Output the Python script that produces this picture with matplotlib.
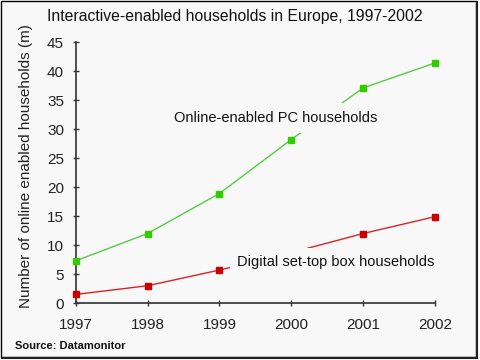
import matplotlib.pyplot as plt
from matplotlib.patches import Rectangle
from matplotlib.lines import Line2D

plt.rcParams['font.family'] = ['Liberation Sans', 'DejaVu Sans']

years = [1997, 1998, 1999, 2000, 2001, 2002]
pc_households = [7.3, 12.0, 18.9, 28.2, 37.1, 41.4]
stb_households = [1.5, 3.0, 5.7, 8.7, 12.0, 14.9]
y_ticks = [0, 5, 10, 15, 20, 25, 30, 35, 40, 45]

bg = '#f8f8f8'
fig = plt.figure(figsize=(4.8, 3.6), dpi=100, facecolor='white')

# panel background with a black frame and a dark shadow right/bottom
fig.patches.append(Rectangle((0.002, 0.008), 0.990, 0.989, transform=fig.transFigure,
                             facecolor=bg, edgecolor='black', linewidth=1.0, zorder=-5))
fig.lines.append(Line2D([0.994, 0.994], [0.006, 0.995], transform=fig.transFigure,
                        color='#222222', linewidth=1.5, zorder=-4))
fig.lines.append(Line2D([0.004, 0.994], [0.006, 0.006], transform=fig.transFigure,
                        color='#222222', linewidth=1.5, zorder=-4))

ax = fig.add_axes([0.158, 0.158, 0.748, 0.725])
ax.set_facecolor('none')

ax.plot(years, pc_households, color='#55cc44', linewidth=1.0, zorder=2, clip_on=False)
ax.plot(years, pc_households, linestyle='none', marker='s', markersize=5,
        color='#33cc00', zorder=4, clip_on=False)
ax.plot(years, stb_households, color='#dd2222', linewidth=1.0, zorder=2, clip_on=False)
# the 2000 set-top box point sits under its label
ax.plot([y for y in years if y != 2000], [v for y, v in zip(years, stb_households) if y != 2000],
        linestyle='none', marker='s', markersize=5, color='#cc0000', zorder=4, clip_on=False)

ax.text(1998.37, 31.9, 'Online-enabled PC households', fontsize=10.5, color='#111111',
        va='center', ha='left', zorder=3,
        bbox=dict(facecolor=bg, edgecolor='none', pad=6))
ax.text(1999.25, 7.1, 'Digital set-top box households', fontsize=10.5, color='#111111',
        va='center', ha='left', zorder=3,
        bbox=dict(facecolor=bg, edgecolor='none', pad=5))

ax.set_xlim(1997, 2002)
ax.set_ylim(0, 45)
ax.set_xticks(years)
ax.set_yticks(y_ticks)
ax.tick_params(direction='inout', length=5, width=1, colors='#333333',
               labelcolor='#222222', labelsize=11)
ax.tick_params(axis='x', pad=8)
ax.tick_params(axis='y', pad=6)
for s in ['top', 'right']:
    ax.spines[s].set_visible(False)
for s in ['left', 'bottom']:
    ax.spines[s].set_color('#333333')
    ax.spines[s].set_linewidth(1.2)

ax.set_ylabel('Number of online enabled households (m)', fontsize=11, color='#222222')
ax.yaxis.set_label_coords(-0.118, 0.525)

fig.text(0.098, 0.955, 'Interactive-enabled households in Europe, 1997-2002',
         fontsize=11.3, color='#111111', ha='left', va='center')
fig.text(0.031, 0.040, 'Source: Datamonitor', fontsize=8, color='#111111',
         ha='left', va='center', fontweight='bold')

fig.savefig('out.png', dpi=100, facecolor='white')
